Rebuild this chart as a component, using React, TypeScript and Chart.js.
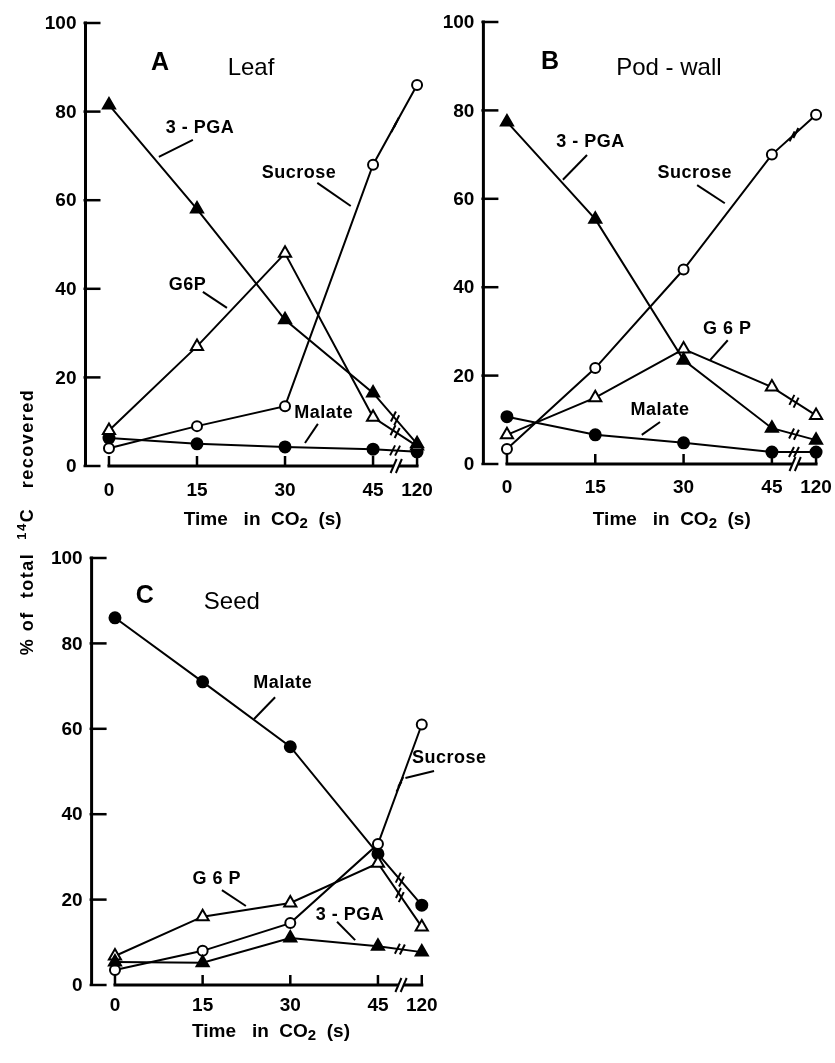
import React, { useEffect, useRef } from 'react';
import { Chart, registerables } from 'chart.js';

Chart.register(...registerables);

// ---------- data ----------
const timeLabels = ['0', '15', '30', '45', '120'];
// positions of the sampling times on the broken time axis (120 s sits after the break)
const timeAxisPos = [0, 15, 30, 45, 52.5];
const yTickValues = [0, 20, 40, 60, 80, 100];

// A  Leaf
const leafPGA = [81.5, 58, 33, 16.5, 5];
const leafG6P = [8, 27, 48, 11, 4.5];
const leafSucrose = [4, 9, 13.5, 68, 86];
const leafMalate = [6.3, 5, 4.3, 3.8, 3.2];

// B  Pod-wall
const podPGA = [77.4, 55.4, 23.5, 8.1, 5.4];
const podG6P = [6.6, 15, 26, 17.4, 11];
const podSucrose = [3.4, 21.7, 44, 70, 79];
const podMalate = [10.7, 6.6, 4.8, 2.7, 2.7];

// C  Seed
const seedPGA = [5.4, 5.2, 11, 9.1, 7.7];
const seedG6P = [6.8, 16, 19.2, 28.5, 13.6];
const seedSucrose = [3.5, 8, 14.5, 33, 61];
const seedMalate = [86, 71, 55.8, 30.7, 18.7];

const seriesNames = ['3-PGA', 'G6P', 'Sucrose', 'Malate'];

// ---------- annotation layout (data coordinates) ----------
const leafLabels = [
  { text: '3 - PGA', x: 15.5, y: 76.3 },
  { text: 'Sucrose', x: 32.4, y: 66.1 },
  { text: 'G6P', x: 13.4, y: 40.9 },
  { text: 'Malate', x: 36.6, y: 12 },
];
const leafLeaders = [
  [14.3, 73.6, 8.5, 69.8],
  [35.5, 63.9, 41.2, 58.7],
  [16, 39.3, 20.1, 35.7],
  [35.6, 9.5, 33.4, 5.2],
];
const podLabels = [
  { text: '3 - PGA', x: 14.2, y: 72.9 },
  { text: 'Sucrose', x: 31.9, y: 65.8 },
  { text: 'G 6 P', x: 37.4, y: 30.5 },
  { text: 'Malate', x: 26, y: 12.2 },
];
const podLeaders = [
  [13.6, 69.9, 9.5, 64.3],
  [32.3, 63.1, 37, 59],
  [37.5, 28, 34.5, 23.5],
  [26, 9.5, 22.9, 6.6],
];
const seedLabels = [
  { text: 'Malate', x: 28.7, y: 70.7 },
  { text: 'Sucrose', x: 57.2, y: 53.2 },
  { text: 'G 6 P', x: 17.4, y: 24.8 },
  { text: '3 - PGA', x: 40.2, y: 16.4 },
];
const seedLeaders = [
  [27.4, 67.4, 23.8, 62.3],
  [54.6, 50.1, 49.7, 48.5],
  [18.3, 22.2, 22.4, 18.5],
  [38, 14.8, 41.1, 10.5],
];

const FONT = '"Liberation Sans", Arial, sans-serif';

type Panel = {
  letter: string;
  title: string;
  letterPos: [number, number];
  titlePos: [number, number];
  values: number[][];
  labels: { text: string; x: number; y: number }[];
  leaders: number[][];
  padding: { left: number; right: number; top: number; bottom: number };
  xTitle: { x: number; dy: number };
  tickDy: number;
  yTitle?: { x: number; y: number };
};

const panels: Panel[] = [
  {
    letter: 'A', title: 'Leaf', letterPos: [8.7, 91], titlePos: [24.2, 89.8],
    values: [leafPGA, leafG6P, leafSucrose, leafMalate],
    labels: leafLabels, leaders: leafLeaders,
    padding: { left: 85.5, right: 415, top: 23, bottom: 597 },
    xTitle: { x: 26.2, dy: 54 }, tickDy: 25,
    yTitle: { x: 28, y: 522 },
  },
  {
    letter: 'B', title: 'Pod - wall', letterPos: [7.3, 91], titlePos: [27.5, 89.6],
    values: [podPGA, podG6P, podSucrose, podMalate],
    labels: podLabels, leaders: podLeaders,
    padding: { left: 483.4, right: 16, top: 22, bottom: 599 },
    xTitle: { x: 28, dy: 56 }, tickDy: 24,
  },
  {
    letter: 'C', title: 'Seed', letterPos: [5.1, 91.1], titlePos: [20, 89.5],
    values: [seedPGA, seedG6P, seedSucrose, seedMalate],
    labels: seedLabels, leaders: seedLeaders,
    padding: { left: 91.6, right: 410.3, top: 558, bottom: 78 },
    xTitle: { x: 26.7, dy: 47 }, tickDy: 21,
  },
];

const seriesStyles = [
  { pointStyle: 'triangle', pointRadius: 7, pointBackgroundColor: '#000' },
  { pointStyle: 'triangle', pointRadius: 7, pointBackgroundColor: '#fff' },
  { pointStyle: 'circle', pointRadius: 5, pointBackgroundColor: '#fff' },
  { pointStyle: 'circle', pointRadius: 5.5, pointBackgroundColor: '#000' },
];

type Part = { t: string; size: number; dy?: number; bold?: boolean };

function drawRich(ctx: CanvasRenderingContext2D, parts: Part[], cx: number, cy: number) {
  let total = 0;
  const widths = parts.map((p) => {
    ctx.font = `${p.bold === false ? '' : 'bold '}${p.size}px ${FONT}`;
    const w = ctx.measureText(p.t).width;
    total += w;
    return w;
  });
  let x = cx - total / 2;
  ctx.textAlign = 'left';
  ctx.textBaseline = 'middle';
  parts.forEach((p, i) => {
    ctx.font = `${p.bold === false ? '' : 'bold '}${p.size}px ${FONT}`;
    ctx.fillText(p.t, x, cy + (p.dy || 0));
    x += widths[i];
  });
}

function makePlugin(panel: Panel) {
  return {
    id: 'figure' + panel.letter,
    afterDatasetsDraw(chart: any) {
      const ctx: CanvasRenderingContext2D = chart.ctx;
      ctx.save();
      ctx.strokeStyle = '#000';
      ctx.lineWidth = 2;
      chart.data.datasets.forEach((_d: any, di: number) => {
        const meta = chart.getDatasetMeta(di);
        const p3 = meta.data[3];
        const p4 = meta.data[4];
        if (!p3 || !p4) return;
        const mx = (p3.x + p4.x) / 2;
        const my = (p3.y + p4.y) / 2;
        const dx = p4.x - p3.x;
        const dy = p4.y - p3.y;
        const len = Math.hypot(dx, dy) || 1;
        const ux = dx / len;
        const uy = dy / len;
        [-2.5, 2.5].forEach((o) => {
          const cx = mx + ux * o;
          const cy = my + uy * o;
          ctx.beginPath();
          ctx.moveTo(cx - 2.5, cy + 5);
          ctx.lineTo(cx + 2.5, cy - 5);
          ctx.stroke();
        });
      });
      ctx.restore();
    },
    afterDraw(chart: any) {
      const ctx: CanvasRenderingContext2D = chart.ctx;
      const xs = chart.scales.x;
      const ys = chart.scales.y;
      const area = chart.chartArea;
      ctx.save();
      ctx.fillStyle = '#000';
      ctx.strokeStyle = '#000';
      ctx.lineCap = 'butt';

      // y axis
      const ax = area.left;
      ctx.lineWidth = 3;
      ctx.beginPath();
      ctx.moveTo(ax, ys.getPixelForValue(0));
      ctx.lineTo(ax, ys.getPixelForValue(100) - 1.5);
      ctx.stroke();
      ctx.lineWidth = 2.5;
      ctx.font = `bold 19px ${FONT}`;
      ctx.textAlign = 'right';
      ctx.textBaseline = 'middle';
      yTickValues.forEach((v) => {
        const y = ys.getPixelForValue(v);
        ctx.beginPath();
        ctx.moveTo(ax - 2, y);
        ctx.lineTo(ax + 15, y);
        ctx.stroke();
        ctx.fillText(String(v), ax - 9, y + 1);
      });

      // x axis (broken between 45 and 120)
      const y0 = ys.getPixelForValue(0);
      const xStart = xs.getPixelForValue(timeAxisPos[0]);
      const xEnd = xs.getPixelForValue(timeAxisPos[4]);
      const b1 = xs.getPixelForValue(48.5);
      const b2 = xs.getPixelForValue(49.4);
      ctx.lineWidth = 3;
      ctx.beginPath();
      ctx.moveTo(xStart - 1.5, y0);
      ctx.lineTo(b1, y0);
      ctx.moveTo(b2, y0);
      ctx.lineTo(xEnd + 1.5, y0);
      ctx.stroke();
      ctx.lineWidth = 2;
      [b1, b2].forEach((bx) => {
        ctx.beginPath();
        ctx.moveTo(bx - 3, y0 + 7);
        ctx.lineTo(bx + 3, y0 - 7);
        ctx.stroke();
      });
      ctx.lineWidth = 2.5;
      ctx.font = `bold 19px ${FONT}`;
      ctx.textAlign = 'center';
      timeAxisPos.forEach((p, i) => {
        const x = xs.getPixelForValue(p);
        ctx.beginPath();
        ctx.moveTo(x, y0);
        ctx.lineTo(x, y0 - 10);
        ctx.stroke();
        ctx.fillText(timeLabels[i], x, y0 + panel.tickDy);
      });

      // x axis title
      drawRich(
        ctx,
        [
          { t: 'Time   in  CO', size: 19 },
          { t: '2', size: 15, dy: 4 },
          { t: '  (s)', size: 19 },
        ],
        xs.getPixelForValue(panel.xTitle.x),
        y0 + panel.xTitle.dy,
      );

      // panel letter and title
      ctx.textAlign = 'center';
      ctx.textBaseline = 'middle';
      ctx.font = `bold 25px ${FONT}`;
      ctx.fillText(panel.letter, xs.getPixelForValue(panel.letterPos[0]), ys.getPixelForValue(panel.letterPos[1]));
      ctx.font = `24px ${FONT}`;
      ctx.fillText(panel.title, xs.getPixelForValue(panel.titlePos[0]), ys.getPixelForValue(panel.titlePos[1]));

      // series labels with leader lines
      ctx.font = `bold 18px ${FONT}`;
      (ctx as any).letterSpacing = '0.5px';
      panel.labels.forEach((l) => {
        ctx.fillText(l.text, xs.getPixelForValue(l.x), ys.getPixelForValue(l.y));
      });
      (ctx as any).letterSpacing = '0px';
      ctx.lineWidth = 2;
      panel.leaders.forEach((s) => {
        ctx.beginPath();
        ctx.moveTo(xs.getPixelForValue(s[0]), ys.getPixelForValue(s[1]));
        ctx.lineTo(xs.getPixelForValue(s[2]), ys.getPixelForValue(s[3]));
        ctx.stroke();
      });

      // shared y title
      if (panel.yTitle) {
        ctx.save();
        ctx.translate(panel.yTitle.x, panel.yTitle.y);
        ctx.rotate(-Math.PI / 2);
        (ctx as any).letterSpacing = '1.5px';
        drawRich(
          ctx,
          [
            { t: '% of  total  ', size: 18 },
            { t: '14', size: 13, dy: -6 },
            { t: 'C   recovered', size: 18 },
          ],
          0,
          0,
        );
        (ctx as any).letterSpacing = '0px';
        ctx.restore();
      }
      ctx.restore();
    },
  };
}

function PanelChart({ panel }: { panel: Panel }) {
  const ref = useRef<HTMLCanvasElement | null>(null);
  useEffect(() => {
    if (!ref.current) return;
    const chart = new Chart(ref.current, {
      type: 'line',
      data: {
        datasets: panel.values.map((vals, si) => ({
          label: seriesNames[si],
          data: timeAxisPos.map((x, i) => ({ x, y: vals[i] })),
          borderColor: '#000',
          borderWidth: 2,
          pointBorderColor: '#000',
          pointBorderWidth: 2,
          fill: false,
          tension: 0,
          clip: false,
          ...seriesStyles[si],
        })) as any,
      },
      options: {
        responsive: false,
        animation: false,
        events: [],
        layout: { padding: panel.padding },
        scales: {
          x: { type: 'linear', min: -4, max: 53, display: false },
          y: { type: 'linear', min: 0, max: 100, display: false },
        },
        plugins: { legend: { display: false }, tooltip: { enabled: false } },
      },
      plugins: [makePlugin(panel) as any],
    });
    return () => chart.destroy();
  }, [panel]);
  return (
    <canvas
      ref={ref}
      width={835}
      height={1063}
      style={{ position: 'absolute', left: 0, top: 0, width: 835, height: 1063 }}
    />
  );
}

export default function App() {
  return (
    <div style={{ position: 'fixed', left: 0, top: 0, width: 835, height: 1063, background: '#fff', overflow: 'hidden' }}>
      {panels.map((p) => (
        <PanelChart key={p.letter} panel={p} />
      ))}
    </div>
  );
}
